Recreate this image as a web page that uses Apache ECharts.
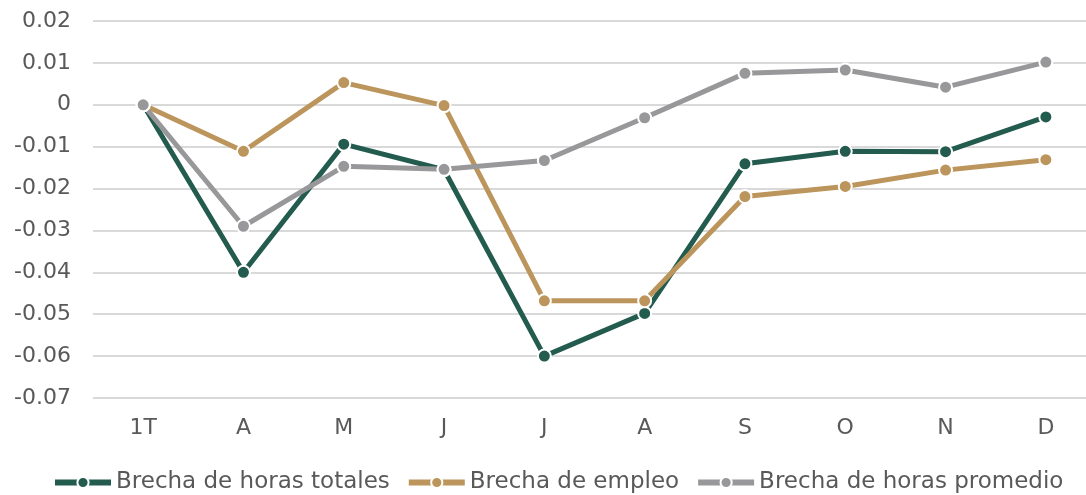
<!DOCTYPE html>
<html>
<head>
<meta charset="utf-8">
<script src="https://cdn.jsdelivr.net/npm/echarts@6/dist/echarts.min.js"></script>
<style>
  html, body { margin: 0; padding: 0; background: #fff; }
  #chart { width: 1086px; height: 495px; }
</style>
</head>
<body>
<div id="chart"></div>
<script>
var meses = ['1T', 'A', 'M', 'J', 'J', 'A', 'S', 'O', 'N', 'D']
var horasTotales = [0, -0.040, -0.0094, -0.0155, -0.0600, -0.0498, -0.0141, -0.0111, -0.0112, -0.0029]
var empleo = [0, -0.0111, 0.0053, -0.0002, -0.0468, -0.0468, -0.0219, -0.0195, -0.0156, -0.0131]
var horasPromedio = [0, -0.0290, -0.0147, -0.0154, -0.0133, -0.0031, 0.0075, 0.0083, 0.0042, 0.0102]

var fuente = 'DejaVu Sans'
var gris = '#595959'

function serie(nombre, datos, color) {
  return {
    name: nombre,
    type: 'line',
    data: datos,
    symbol: 'circle',
    symbolSize: 13,
    lineStyle: { color: color, width: 5 },
    itemStyle: { color: color, borderColor: '#fff', borderWidth: 2 },
    emphasis: { disabled: true },
    animation: false
  }
}

var chart = echarts.init(document.getElementById('chart'))
chart.setOption({
  backgroundColor: '#fff',
  textStyle: { fontFamily: fuente },
  grid: { left: 93, width: 1003, top: 21, bottom: 97, outerBoundsMode: 'none', containLabel: false },
  legend: {
    top: 466,
    left: 47,
    itemWidth: 56,
    itemHeight: 14,
    itemGap: 16,
    lineStyle: { width: 6 },
    textStyle: { color: gris, fontSize: 23, fontFamily: fuente },
    data: ['Brecha de horas totales', 'Brecha de empleo', 'Brecha de horas promedio']
  },
  xAxis: {
    type: 'category',
    data: meses,
    axisLine: { show: false },
    axisTick: { show: false },
    axisLabel: { color: gris, fontSize: 22, margin: 19, fontFamily: fuente }
  },
  yAxis: {
    type: 'value',
    min: -0.07,
    max: 0.02,
    interval: 0.01,
    axisLine: { show: false },
    axisTick: { show: false },
    splitLine: { lineStyle: { color: '#d9d9d9', width: 2 } },
    axisLabel: {
      color: gris,
      fontSize: 22,
      margin: 22,
      fontFamily: fuente,
      formatter: function (v) { return String(Math.round(v * 100) / 100) }
    }
  },
  series: [
    serie('Brecha de horas totales', horasTotales, '#235B4E'),
    serie('Brecha de empleo', empleo, '#BC955C'),
    serie('Brecha de horas promedio', horasPromedio, '#98989A')
  ]
})
</script>
</body>
</html>
